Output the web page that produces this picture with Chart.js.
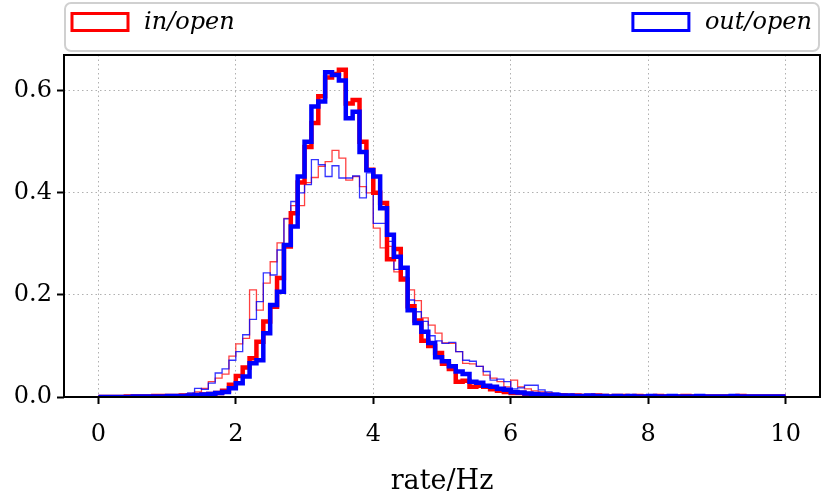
<!DOCTYPE html>
<html>
<head>
<meta charset="utf-8">
<script src="https://cdn.jsdelivr.net/npm/chart.js@4.4.1/dist/chart.umd.min.js"></script>
<style>
  html, body { margin: 0; padding: 0; background: #fff; }
</style>
</head>
<body>
<canvas id="chartCanvas" width="830" height="498"></canvas>
<script>
// histogram bins: 0.1 Hz wide, starting at 0 Hz
const binStart = 0;
const binWidth = 0.1;
const xTicks = [0, 2, 4, 6, 8, 10];
const yTicks = [0, 0.2, 0.4, 0.6];
const legendLabels = ['in/open', 'out/open'];

// thick lines
const inOpenThick = [
    0, 0, 0, 0, 0.001, 0.001, 0.001, 0.001, 0.002, 0.002,
    0.002, 0.002, 0.003, 0.003, 0.004, 0.005, 0.006, 0.008, 0.012, 0.024,
    0.041, 0.058, 0.076, 0.108, 0.148, 0.177, 0.233, 0.295, 0.360, 0.420,
    0.490, 0.537, 0.589, 0.626, 0.633, 0.641, 0.575, 0.582, 0.500, 0.445,
    0.400, 0.380, 0.270, 0.290, 0.230, 0.178, 0.150, 0.110, 0.100, 0.086,
    0.065, 0.055, 0.030, 0.032, 0.020, 0.022, 0.020, 0.015, 0.012, 0.010,
    0.008, 0.008, 0.006, 0.005, 0.004, 0.004, 0.003, 0.003, 0.002, 0.003,
    0.002, 0.002, 0.003, 0.002, 0.001, 0.002, 0.002, 0.001, 0.002, 0.001,
    0.001, 0.002, 0.001, 0.001, 0.001, 0.002, 0.001, 0.001, 0.001, 0.001,
    0.001, 0.001, 0.001, 0.002, 0.001, 0.001, 0.001, 0.001, 0.001, 0.001
];
const outOpenThick = [
    0, 0, 0, 0, 0, 0.001, 0.001, 0.001, 0.001, 0.001,
    0.002, 0.002, 0.002, 0.003, 0.004, 0.005, 0.006, 0.008, 0.010, 0.017,
    0.027, 0.040, 0.066, 0.072, 0.125, 0.180, 0.206, 0.298, 0.334, 0.432,
    0.500, 0.569, 0.579, 0.636, 0.631, 0.620, 0.546, 0.559, 0.480, 0.444,
    0.432, 0.370, 0.318, 0.275, 0.253, 0.170, 0.145, 0.128, 0.106, 0.078,
    0.070, 0.060, 0.050, 0.045, 0.030, 0.028, 0.022, 0.020, 0.016, 0.014,
    0.010, 0.009, 0.007, 0.006, 0.005, 0.004, 0.004, 0.003, 0.003, 0.002,
    0.002, 0.003, 0.002, 0.002, 0.001, 0.002, 0.001, 0.002, 0.001, 0.001,
    0.002, 0.001, 0.001, 0.002, 0.001, 0.001, 0.001, 0.002, 0.001, 0.001,
    0.001, 0.001, 0.002, 0.001, 0.001, 0.001, 0.001, 0.001, 0.001, 0.001
];

// thin lines
const inOpenThin = [
    0.001, 0.001, 0.001, 0.001, 0.001, 0.001, 0.002, 0.002, 0.002, 0.002,
    0.002, 0.003, 0.004, 0.006, 0.010, 0.017, 0.030, 0.037, 0.045, 0.080,
    0.104, 0.115, 0.210, 0.170, 0.223, 0.265, 0.302, 0.350, 0.375, 0.375,
    0.420, 0.430, 0.452, 0.461, 0.483, 0.468, 0.425, 0.432, 0.412, 0.400,
    0.331, 0.292, 0.295, 0.245, 0.235, 0.210, 0.189, 0.155, 0.141, 0.125,
    0.106, 0.105, 0.089, 0.066, 0.065, 0.060, 0.043, 0.037, 0.030, 0.020,
    0.033, 0.020, 0.016, 0.012, 0.010, 0.008, 0.006, 0.005, 0.004, 0.004,
    0.003, 0.002, 0.003, 0.002, 0.002, 0.003, 0.002, 0.002, 0.001, 0.002,
    0.002, 0.001, 0.002, 0.001, 0.002, 0.002, 0.001, 0.001, 0.002, 0.001,
    0.001, 0.002, 0.001, 0.001, 0.002, 0.001, 0.001, 0.001, 0.002, 0.001
];
const outOpenThin = [
    0.001, 0.001, 0.001, 0.001, 0.001, 0.001, 0.001, 0.002, 0.002, 0.002,
    0.002, 0.003, 0.005, 0.008, 0.017, 0.015, 0.027, 0.047, 0.055, 0.072,
    0.089, 0.122, 0.152, 0.187, 0.243, 0.239, 0.288, 0.349, 0.383, 0.400,
    0.416, 0.465, 0.455, 0.432, 0.453, 0.429, 0.429, 0.433, 0.390, 0.439,
    0.340, 0.340, 0.305, 0.250, 0.235, 0.190, 0.167, 0.148, 0.120, 0.110,
    0.105, 0.107, 0.089, 0.072, 0.070, 0.060, 0.050, 0.033, 0.035, 0.030,
    0.016, 0.018, 0.023, 0.023, 0.014, 0.010, 0.008, 0.006, 0.005, 0.004,
    0.003, 0.004, 0.002, 0.003, 0.002, 0.002, 0.003, 0.002, 0.002, 0.002,
    0.001, 0.002, 0.002, 0.001, 0.002, 0.001, 0.002, 0.001, 0.001, 0.002,
    0.001, 0.001, 0.002, 0.001, 0.001, 0.002, 0.001, 0.001, 0.001, 0.001
];

const serif = "'DejaVu Serif', 'Liberation Serif', serif";

// turn bin values into step points: one point on each left bin edge, plus the last right edge
function toSteps(values) {
    const pts = values.map((v, i) => ({ x: binStart + i * binWidth, y: v }));
    pts.push({ x: binStart + values.length * binWidth, y: values[values.length - 1] });
    return pts;
}

function stepSet(label, values, color, width) {
    return {
        label: label,
        data: toSteps(values),
        borderColor: color,
        borderWidth: width,
        stepped: 'before',
        pointRadius: 0,
        fill: false,
        borderJoinStyle: 'miter',
        borderCapStyle: 'butt'
    };
}

// frame around the axes (matplotlib style spines)
const framePlugin = {
    id: 'frame',
    afterDatasetsDraw(chart) {
        const a = chart.chartArea;
        const ctx = chart.ctx;
        ctx.save();
        ctx.strokeStyle = '#000';
        ctx.lineWidth = 2;
        ctx.strokeRect(a.left, a.top, a.right - a.left, a.bottom - a.top);
        ctx.restore();
    }
};

// legend box above the axes, entries spread over the full width
const legendPlugin = {
    id: 'boxLegend',
    afterDraw(chart) {
        const a = chart.chartArea;
        const ctx = chart.ctx;
        const x0 = a.left + 1, x1 = a.right - 1, y0 = 3, y1 = 51;
        ctx.save();
        ctx.beginPath();
        ctx.roundRect(x0, y0, x1 - x0, y1 - y0, 6);
        ctx.fillStyle = 'rgba(255,255,255,0.8)';
        ctx.fill();
        ctx.strokeStyle = '#d0d0d0';
        ctx.lineWidth = 2;
        ctx.stroke();

        ctx.font = 'italic 24px ' + serif;
        ctx.textBaseline = 'middle';
        ctx.lineWidth = 3;
        const midY = 22;
        const swW = 56, swH = 17, gap = 16;

        // left entry
        ctx.strokeStyle = 'red';
        ctx.strokeRect(x0 + 7, midY - swH / 2, swW, swH);
        ctx.fillStyle = '#000';
        ctx.textAlign = 'left';
        ctx.fillText(legendLabels[0], x0 + 7 + swW + gap, midY + 1);

        // right entry
        const tw = ctx.measureText(legendLabels[1]).width;
        const tx = x1 - 7 - tw;
        ctx.strokeStyle = 'blue';
        ctx.strokeRect(tx - gap - swW, midY - swH / 2, swW, swH);
        ctx.fillText(legendLabels[1], tx, midY + 1);
        ctx.restore();
    }
};

const ctx = document.getElementById('chartCanvas');

window.myChart = new Chart(ctx, {
    type: 'line',
    data: {
        // first dataset is drawn on top
        datasets: [
            stepSet('out/open', outOpenThick, 'rgb(0,0,255)', 4.5),
            stepSet('in/open', inOpenThick, 'rgb(255,0,0)', 4.5),
            stepSet('out/open thin', outOpenThin, 'rgba(0,0,255,0.8)', 1.3),
            stepSet('in/open thin', inOpenThin, 'rgba(255,0,0,0.75)', 1.3)
        ]
    },
    options: {
        responsive: false,
        animation: false,
        devicePixelRatio: 1,
        layout: { padding: { top: 55, right: 10, left: 0, bottom: 0 } },
        plugins: {
            legend: { display: false },
            tooltip: { enabled: false }
        },
        scales: {
            x: {
                type: 'linear',
                min: -0.5,
                max: 10.5,
                afterBuildTicks: (scale) => { scale.ticks = xTicks.map(v => ({ value: v })); },
                afterFit: (scale) => { scale.height = 101; },
                ticks: {
                    color: '#000',
                    font: { family: serif, size: 24 },
                    padding: 16,
                    maxRotation: 0,
                    autoSkip: false
                },
                grid: {
                    color: '#b0b0b0',
                    lineWidth: 1,
                    tickLength: 7,
                    tickWidth: 2,
                    tickColor: '#000'
                },
                border: { display: false, dash: [1.5, 3] },
                title: {
                    display: true,
                    text: 'rate/Hz',
                    color: '#000',
                    font: { family: serif, size: 27 },
                    padding: { top: 0, bottom: 0 }
                }
            },
            y: {
                min: 0,
                max: 0.67,
                afterBuildTicks: (scale) => { scale.ticks = yTicks.map(v => ({ value: v })); },
                afterFit: (scale) => { scale.width = 64; },
                ticks: {
                    color: '#000',
                    font: { family: serif, size: 24 },
                    padding: 5,
                    callback: (v) => Number(v).toFixed(1)
                },
                grid: {
                    color: '#b0b0b0',
                    lineWidth: 1,
                    tickLength: 7,
                    tickWidth: 2,
                    tickColor: '#000'
                },
                border: { display: false, dash: [1.5, 3] }
            }
        }
    },
    plugins: [framePlugin, legendPlugin]
});
</script>
</body>
</html>
